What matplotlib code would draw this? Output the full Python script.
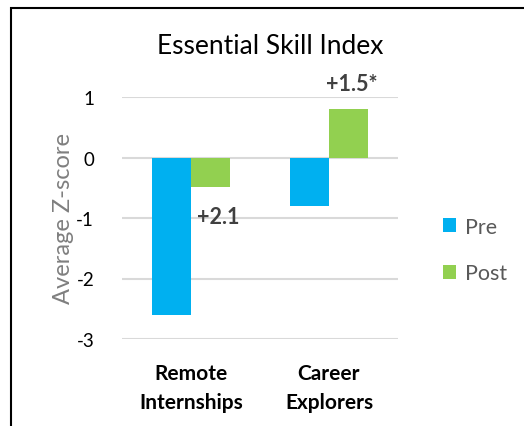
import numpy as np
import matplotlib.pyplot as plt
from matplotlib.patches import Rectangle

# Chart data
categories = ["Remote\nInternships", "Career\nExplorers"]
pre_scores = [-2.6, -0.8]
post_scores = [-0.48, 0.8]
change_labels = ["+2.1", "+1.5*"]
yticks = [-3, -2, -1, 0, 1]

PRE_COLOR = "#00B0F0"
POST_COLOR = "#92D050"

plt.rcParams['font.family'] = ['Lato', 'DejaVu Sans']

fig = plt.figure(figsize=(5.24, 4.27), dpi=100)
ax = fig.add_axes([122 / 524, 1 - 340 / 427, 276 / 524, (340 - 98) / 427])

x = np.arange(len(categories))
width = 0.286
ax.bar(x - width / 2, pre_scores, width, color=PRE_COLOR, label="Pre")
ax.bar(x + width / 2, post_scores, width, color=POST_COLOR, label="Post")

ax.set_xlim(-0.5, 1.5)
ax.set_ylim(-3, 1)
ax.set_yticks(yticks)
ax.set_yticklabels([str(t) for t in yticks], fontsize=13.5, color="#000000")
ax.yaxis.grid(True, color="#d9d9d9", linewidth=1.5)
ax.set_axisbelow(True)
ax.tick_params(axis='y', length=0, pad=20)
ax.tick_params(axis='x', length=0, pad=17)
ax.set_xticks(x)
ax.set_xticklabels(categories, fontsize=15, fontweight='bold', linespacing=1.6)
for s in ax.spines.values():
    s.set_visible(False)

# y axis title
fig.text(63 / 524, 1 - 219 / 427, "Average Z-score", fontsize=17, color="#7f7f7f",
         rotation=90, ha='center', va='center')

# change annotations
ax.text(x[0] + 0.04, -0.98, change_labels[0], fontsize=15.5, fontweight='bold',
        color="#404040", ha='left', va='center')
ax.text(x[1] + width / 2 + 0.02, 1.05, change_labels[1], fontsize=15.5, fontweight='bold',
        color="#404040", ha='center', va='bottom')

fig.text(270 / 524, 1 - 47 / 427, "Essential Skill Index", fontsize=19,
         ha='center', va='center', color="#000000")

leg = fig.legend(loc='center left', bbox_to_anchor=(424 / 524, 1 - 251 / 427),
                 frameon=False, fontsize=15.5, handlelength=0.6, handleheight=0.6,
                 labelspacing=1.25, handletextpad=0.4)
for t in leg.get_texts():
    t.set_color("#595959")

# chart border
fig.patches.append(Rectangle((11 / 524, -0.1), 1.2, 1 - 9 / 427 + 0.1,
                             transform=fig.transFigure, fill=False,
                             edgecolor="black", linewidth=1.5))

fig.savefig("out.png", dpi=100)
